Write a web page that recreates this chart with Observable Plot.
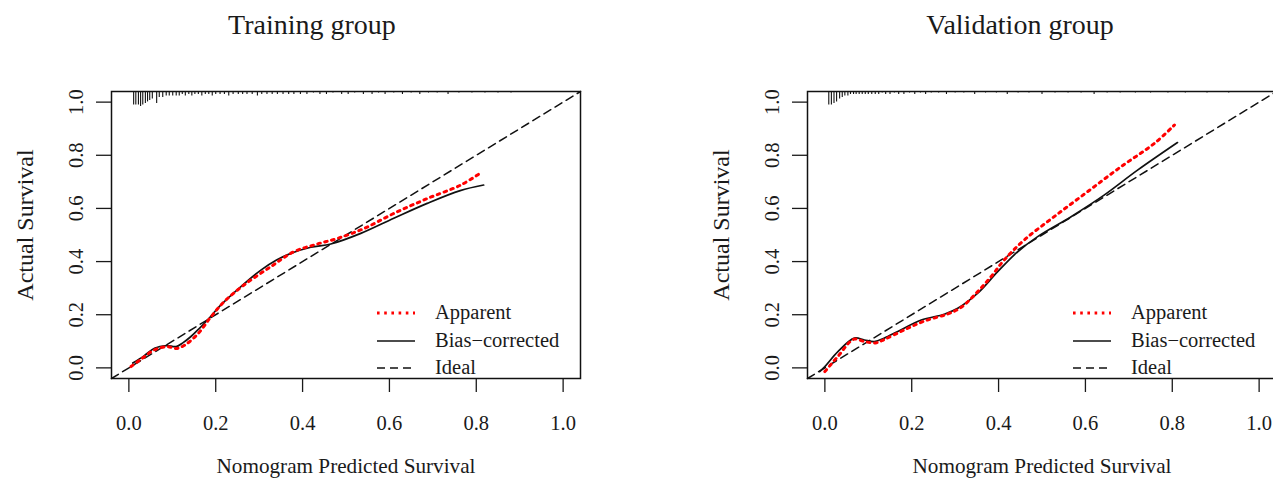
<!DOCTYPE html>
<html><head><meta charset="utf-8">
<script src="https://cdn.jsdelivr.net/npm/d3@7"></script>
<script src="https://cdn.jsdelivr.net/npm/@observablehq/plot@0.6"></script>
<style>
html,body{margin:0;padding:0;background:#fff;overflow:hidden;width:1273px;height:479px;}
#wrap{position:relative;width:1273px;height:479px;overflow:hidden;font-family:"Liberation Serif","Times New Roman",serif;color:#1a1a1a;}
.panel{position:absolute;top:0;width:636px;height:479px;}
.title{position:absolute;top:11px;font-size:28px;line-height:28px;white-space:nowrap;transform:translateX(-50%);}
.plot{position:absolute;top:60px;left:0;}
.legend{position:absolute;left:377px;top:299px;font-size:20.5px;}
.legend .row{position:relative;height:27.5px;line-height:27.5px;white-space:nowrap;}
.legend svg{position:absolute;left:0;top:11px;}
.legend span{position:absolute;left:58px;top:0;}
</style>
</head><body>
<div id="wrap"></div>
<script>
// ---- data ----
const titles = ["Training group", "Validation group"];
const xLabel = "Nomogram Predicted Survival";
const yLabel = "Actual Survival";
const xTicks = [0, 0.2, 0.4, 0.6, 0.8, 1.0];
const yTicks = [0, 0.2, 0.4, 0.6, 0.8, 1.0];
const seriesNames = ["Apparent", "Bias\u2212corrected", "Ideal"];

// Training group
const trainApparentX = [0.005, 0.030, 0.059, 0.088, 0.109, 0.128, 0.159, 0.189, 0.220, 0.266, 0.327, 0.380, 0.434, 0.480, 0.541, 0.610, 0.687, 0.763, 0.805];
const trainApparentY = [0.005, 0.035, 0.068, 0.080, 0.073, 0.085, 0.128, 0.192, 0.250, 0.313, 0.381, 0.437, 0.466, 0.487, 0.524, 0.581, 0.637, 0.687, 0.728];
const trainBiasX = [0.009, 0.035, 0.059, 0.086, 0.109, 0.125, 0.143, 0.162, 0.181, 0.212, 0.258, 0.304, 0.340, 0.373, 0.419, 0.465, 0.534, 0.610, 0.687, 0.763, 0.817];
const trainBiasY = [0.018, 0.045, 0.074, 0.084, 0.080, 0.095, 0.118, 0.148, 0.180, 0.237, 0.306, 0.368, 0.406, 0.431, 0.454, 0.466, 0.506, 0.563, 0.619, 0.667, 0.688];
const trainRugX = [0.011, 0.016, 0.022, 0.027, 0.032, 0.038, 0.043, 0.048, 0.054, 0.064, 0.070, 0.078, 0.086, 0.093, 0.101, 0.109, 0.116, 0.123, 0.130, 0.138, 0.145, 0.152, 0.160, 0.168, 0.176, 0.184, 0.192, 0.200, 0.210, 0.220, 0.230, 0.240, 0.252, 0.262, 0.272, 0.284, 0.296, 0.306, 0.318, 0.330, 0.342, 0.355, 0.368, 0.380, 0.395, 0.410, 0.425, 0.440, 0.455, 0.470, 0.490, 0.505, 0.520, 0.540, 0.560, 0.575, 0.590, 0.610, 0.630, 0.650, 0.670, 0.690, 0.710, 0.735, 0.760, 0.790, 0.820, 0.850, 0.880];
const trainRugN = [9, 9, 9, 10, 9, 8, 7, 6, 5, 8, 4, 4, 3, 3, 3, 3, 3, 2, 3, 2, 3, 2, 2, 3, 2, 2, 3, 2, 2, 2, 3, 2, 2, 2, 2, 2, 3, 2, 2, 2, 2, 2, 2, 2, 2, 2, 1, 2, 2, 1, 2, 2, 1, 2, 2, 1, 2, 1, 2, 1, 2, 1, 1, 2, 1, 1, 1, 1, 1];

// Validation group
const validApparentX = [0.000, 0.030, 0.067, 0.091, 0.117, 0.137, 0.183, 0.229, 0.283, 0.314, 0.352, 0.383, 0.413, 0.459, 0.528, 0.605, 0.682, 0.759, 0.805];
const validApparentY = [-0.014, 0.043, 0.108, 0.099, 0.094, 0.107, 0.143, 0.176, 0.203, 0.228, 0.287, 0.344, 0.406, 0.481, 0.569, 0.663, 0.757, 0.845, 0.914];
const validBiasX = [-0.012, 0.000, 0.030, 0.068, 0.091, 0.114, 0.137, 0.168, 0.222, 0.275, 0.306, 0.352, 0.398, 0.444, 0.490, 0.567, 0.643, 0.720, 0.812];
const validBiasY = [-0.014, 0.005, 0.061, 0.112, 0.105, 0.099, 0.112, 0.137, 0.180, 0.202, 0.224, 0.281, 0.362, 0.437, 0.494, 0.569, 0.650, 0.744, 0.848];
const validRugX = [0.009, 0.015, 0.021, 0.027, 0.034, 0.040, 0.046, 0.053, 0.059, 0.066, 0.072, 0.079, 0.086, 0.093, 0.100, 0.108, 0.116, 0.124, 0.132, 0.140, 0.150, 0.160, 0.170, 0.182, 0.195, 0.207, 0.220, 0.232, 0.245, 0.262, 0.280, 0.300, 0.320, 0.345, 0.370, 0.395, 0.420, 0.445, 0.470, 0.500, 0.530, 0.560, 0.590, 0.620, 0.650, 0.680, 0.715, 0.750, 0.790, 0.830, 0.880, 0.930];
const validRugN = [9, 9, 8, 7, 5, 4, 3, 3, 2, 2, 2, 2, 2, 2, 2, 2, 2, 2, 1, 2, 2, 1, 2, 2, 1, 2, 1, 2, 1, 1, 2, 1, 1, 2, 1, 1, 2, 1, 1, 2, 1, 1, 1, 2, 1, 1, 1, 1, 1, 1, 1, 1];

// ---- drawing ----
const domain = [-0.04, 1.04];
const rugUnit = 0.0056; // spike length per count, in y units
const zip = (xs, ys) => xs.map((x, i) => ({x, y: ys[i]}));

function makePlot(appX, appY, bcX, bcY, rugX, rugN) {
  const app = zip(appX, appY);
  const bc = zip(bcX, bcY);
  const ideal = domain.map(v => ({x: v, y: v}));
  const rug = rugX.map((x, i) => ({x, n: rugN[i]}));
  return Plot.plot({
    width: 636, height: 419,
    marginLeft: 111, marginRight: 56, marginTop: 31, marginBottom: 101,
    x: {domain},
    y: {domain},
    style: {fontFamily: "'Liberation Serif', 'Times New Roman', serif", fontSize: "20.5px", color: "#1a1a1a", background: "white", overflow: "visible"},
    marks: [
      Plot.axisX({ticks: xTicks, tickFormat: d3.format(".1f"), tickSize: 14, tickPadding: 23, strokeWidth: 1.3, label: null}),
      Plot.axisX({ticks: [], label: xLabel, labelAnchor: "center", labelArrow: "none", labelOffset: 94, fontSize: 21.2}),
      Plot.axisY({ticks: yTicks, tickFormat: d3.format(".1f"), tickSize: 15, tickPadding: 14, tickRotate: -90, strokeWidth: 1.3, label: null}),
      Plot.text([yLabel], {text: d => d, frameAnchor: "left", rotate: -90, textAnchor: "middle", lineAnchor: "top", dx: -96, dy: -10, fontSize: 24}),
      Plot.ruleX(rug, {x: "x", y1: domain[1], y2: d => domain[1] - d.n * rugUnit, stroke: "#111", strokeWidth: 1.1}),
      Plot.line(ideal, {x: "x", y: "y", stroke: "#111", strokeWidth: 1.5, strokeDasharray: "8 5"}),
      Plot.line(bc, {x: "x", y: "y", stroke: "#111", strokeWidth: 1.7, curve: "catmull-rom"}),
      Plot.line(app, {x: "x", y: "y", stroke: "red", strokeWidth: 3, strokeDasharray: "2.6 4.6", curve: "catmull-rom"}),
      Plot.frame({stroke: "#111", strokeWidth: 1.5})
    ]
  });
}

function legend() {
  const div = document.createElement("div");
  div.className = "legend";
  const styles = [
    {stroke: "red", w: 3, dash: "2.6 4.6"},
    {stroke: "#111", w: 1.7, dash: null},
    {stroke: "#111", w: 1.5, dash: "8 5"}
  ];
  seriesNames.forEach((name, i) => {
    const s = styles[i];
    const row = document.createElement("div");
    row.className = "row";
    row.innerHTML = `<svg width="38" height="6"><line x1="0" x2="38" y1="3" y2="3" stroke="${s.stroke}" stroke-width="${s.w}" ${s.dash ? `stroke-dasharray="${s.dash}"` : ""}/></svg><span>${name}</span>`;
    div.appendChild(row);
  });
  return div;
}

const wrap = document.getElementById("wrap");
const panels = [
  {left: 0, titleX: 312, args: [trainApparentX, trainApparentY, trainBiasX, trainBiasY, trainRugX, trainRugN]},
  {left: 696, titleX: 324, args: [validApparentX, validApparentY, validBiasX, validBiasY, validRugX, validRugN]}
];
panels.forEach((p, i) => {
  const pd = document.createElement("div");
  pd.className = "panel";
  pd.style.left = p.left + "px";
  const t = document.createElement("div");
  t.className = "title";
  t.style.left = p.titleX + "px";
  t.textContent = titles[i];
  pd.appendChild(t);
  const pl = document.createElement("div");
  pl.className = "plot";
  pl.appendChild(makePlot(...p.args));
  pd.appendChild(pl);
  pd.appendChild(legend());
  wrap.appendChild(pd);
});
</script>
</body></html>
